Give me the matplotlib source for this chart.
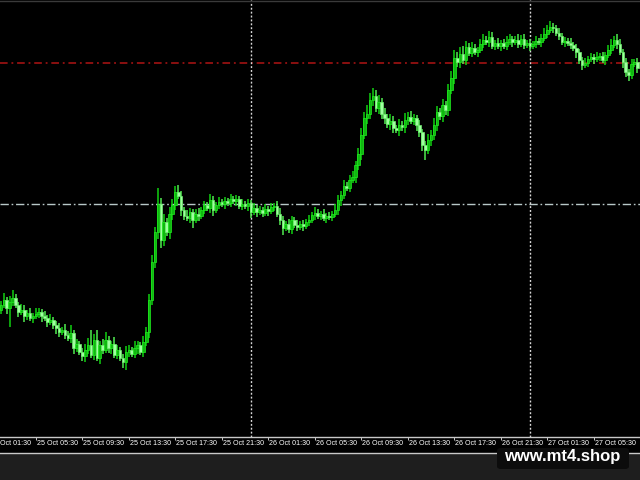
import matplotlib.pyplot as plt
from matplotlib.patches import Rectangle, FancyBboxPatch
from matplotlib.lines import Line2D

# M15 bars, prices in points (higher = higher on chart)
first_open = 130
closes = [
    135, 140, 132, 138, 142, 135, 128, 130, 124, 127, 122, 124, 126, 128, 124, 122, 118, 120, 115, 112,
    108, 110, 105, 102, 107, 92, 96, 88, 84, 90, 95, 85, 100, 82, 95, 90, 100, 92, 96, 85,
    90, 82, 78, 88, 90, 86, 92, 95, 88, 98, 108, 140, 178, 208, 236, 200, 218, 208, 226, 235,
    248, 244, 230, 224, 222, 228, 220, 226, 224, 230, 235, 232, 240, 230, 235, 238, 236, 239, 237, 241,
    239, 241, 234, 236, 234, 237, 228, 232, 228, 230, 227, 231, 229, 233, 234, 226, 220, 212, 216, 211,
    220, 215, 213, 216, 214, 218, 220, 225, 227, 224, 226, 222, 224, 223, 226, 230, 240, 245, 254, 252,
    260, 263, 275, 286, 305, 322, 326, 340, 344, 332, 338, 326, 322, 316, 319, 312, 310, 315, 313, 320,
    323, 319, 322, 315, 308, 295, 290, 300, 305, 315, 328, 324, 335, 330, 350, 362, 382, 378, 386, 380,
    393, 387, 392, 388, 390, 396, 400, 398, 403, 394, 397, 394, 397, 394, 398, 401, 398, 400, 396, 401,
    395, 397, 394, 396, 399, 398, 402, 406, 410, 413, 412, 407, 404, 398, 399, 397, 395, 392, 388, 380,
    375, 377, 381, 383, 381, 383, 384, 380, 385, 390, 395, 400, 396, 388, 378, 368, 365, 376, 378, 372,
]
up_wick = [
    4, 7, 3, 6, 8, 4, 3, 6, 5, 3, 5, 3, 6, 4, 3, 5, 3, 6, 3, 4,
    5, 3, 6, 4, 8, 3, 5, 3, 4, 6, 7, 15, 6, 10, 4, 6, 8, 4, 3, 7,
    5, 3, 4, 6, 5, 3, 7, 4, 3, 6, 5, 6, 7, 5, 16, 6, 8, 4, 7, 6,
    6, 7, 5, 3, 6, 4, 3, 5, 6, 3, 4, 3, 6, 4, 3, 5, 3, 4, 3, 5,
    3, 4, 3, 5, 3, 4, 3, 5, 3, 4, 3, 5, 3, 4, 3, 5, 6, 4, 3, 5,
    4, 3, 5, 3, 4, 3, 5, 3, 6, 4, 3, 5, 3, 4, 3, 6, 5, 4, 6, 4,
    5, 6, 4, 6, 7, 6, 9, 7, 8, 6, 7, 4, 6, 4, 7, 5, 3, 6, 4, 7,
    5, 6, 4, 3, 5, 3, 4, 6, 5, 7, 6, 4, 6, 4, 6, 7, 8, 6, 7, 8,
    6, 4, 6, 4, 3, 5, 6, 4, 6, 5, 3, 5, 3, 4, 6, 5, 3, 4, 6, 4,
    5, 3, 4, 3, 5, 3, 4, 6, 5, 6, 4, 3, 5, 3, 4, 3, 5, 3, 4, 3,
    3, 5, 3, 4, 3, 5, 3, 4, 3, 5, 6, 4, 6, 5, 3, 4, 3, 5, 3, 4,
]
dn_wick = [
    4, 3, 6, 19, 4, 3, 5, 3, 6, 4, 3, 5, 3, 4, 6, 3, 5, 3, 4, 6,
    5, 3, 4, 3, 5, 6, 4, 3, 5, 6, 4, 3, 5, 3, 6, 4, 3, 5, 6, 3,
    4, 3, 6, 8, 5, 3, 4, 6, 3, 5, 4, 6, 5, 6, 7, 8, 6, 4, 7, 6,
    5, 3, 6, 4, 3, 5, 8, 3, 5, 3, 4, 3, 5, 6, 3, 4, 3, 5, 3, 4,
    3, 5, 3, 4, 3, 5, 6, 3, 5, 3, 4, 3, 5, 3, 4, 3, 5, 7, 3, 4,
    5, 3, 4, 3, 5, 3, 4, 3, 5, 3, 4, 3, 5, 3, 4, 3, 5, 6, 4, 3,
    4, 3, 6, 5, 6, 4, 6, 5, 6, 4, 6, 5, 6, 4, 6, 5, 3, 6, 4, 6,
    5, 3, 4, 6, 5, 6, 10, 4, 6, 5, 6, 4, 6, 5, 6, 4, 6, 5, 6, 4,
    5, 3, 4, 3, 5, 3, 4, 3, 5, 3, 4, 3, 5, 3, 4, 3, 5, 3, 4, 3,
    4, 3, 5, 3, 4, 3, 5, 3, 4, 3, 5, 3, 4, 3, 5, 3, 4, 3, 6, 4,
    5, 3, 4, 3, 5, 3, 4, 3, 5, 3, 4, 3, 5, 3, 6, 5, 6, 4, 3, 5,
]

tick_bars = [-4, 12, 28, 44, 60, 76, 92, 108, 124, 140, 156, 172, 188, 204]
tick_labels = [
    "25 Oct 01:30", "25 Oct 05:30", "25 Oct 09:30", "25 Oct 13:30", "25 Oct 17:30",
    "25 Oct 21:30", "26 Oct 01:30", "26 Oct 05:30", "26 Oct 09:30", "26 Oct 13:30",
    "26 Oct 17:30", "26 Oct 21:30", "27 Oct 01:30", "27 Oct 05:30",
]
separator_bars = [86, 182]
red_level = 377
grey_level = 236

opens = [first_open] + closes[:-1]
highs = [max(o, c) + w for o, c, w in zip(opens, closes, up_wick)]
lows = [min(o, c) - w for o, c, w in zip(opens, closes, dn_wick)]
bars = list(range(len(closes)))
bull = [c >= o for o, c in zip(opens, closes)]

W, H = 640, 480
fig = plt.figure(figsize=(6.4, 4.8), dpi=100, facecolor="black")
# grey strip under the chart window
fig.patches.append(Rectangle((0, 0), 1, 1 - 453 / H, transform=fig.transFigure,
                             facecolor="#1e1e1e", edgecolor="none", zorder=-10))

ax = fig.add_axes([0, 1 - 437 / H, 1, 437 / H])
ax.set_facecolor("black")
ax.set_xlim(-0.34, 219.9)
ax.set_ylim(3, 440)

# level lines and day separators
ax.axhline(red_level, color="#b01414", lw=1.1, dashes=(5, 2.5, 1.2, 2.5), zorder=1)
ax.axhline(grey_level, color="#b8c8c8", lw=1.0, dashes=(6, 2, 1.2, 2), zorder=1)
for b in separator_bars:
    ax.axvline(b, color="#d8d8d8", lw=1.0, dashes=(1.4, 1.4), zorder=1)

# candles
wick_col = ["#10d010" if u else "#50ea50" for u in bull]
body_col = ["#10b810" if u else "#a0ffa0" for u in bull]
edge_col = ["#20f020" if u else "#70f070" for u in bull]
ax.vlines(bars, lows, highs, colors=wick_col, lw=1.1, zorder=2)
ax.bar(bars, [max(abs(c - o), 0.8) for o, c in zip(opens, closes)],
       bottom=[min(o, c) for o, c in zip(opens, closes)], width=0.9,
       color=body_col, edgecolor=edge_col, linewidth=0.5, zorder=3)

for s in ("top", "left", "right"):
    ax.spines[s].set_visible(False)
ax.spines["bottom"].set_color("#c8c8c8")
ax.spines["bottom"].set_linewidth(1.0)
ax.set_yticks([])
ax.set_xticks([b for b in tick_bars if b >= 0])
ax.set_xticklabels([])
ax.tick_params(axis="x", direction="out", length=2.5, width=0.7, color="#c8c8c8")

xt = ax.get_xaxis_transform()
for b, lab in zip(tick_bars, tick_labels):
    ax.text(b + 0.3, -6.5 / 437, lab, transform=xt, ha="left", va="center",
            fontsize=5.1, family="Liberation Sans", color="white", clip_on=False)

# window borders
fig.lines.append(Line2D([0, 1], [1 - 453 / H] * 2, transform=fig.transFigure,
                        color="#c8c8c8", lw=1.0))
fig.lines.append(Line2D([0, 1], [1 - 1.0 / H] * 2, transform=fig.transFigure,
                        color="#3a3a3a", lw=1.0))

# watermark
fig.patches.append(FancyBboxPatch((497 / W, 1 - 469 / H), 132 / W, 21 / H,
                                  boxstyle="round,pad=0,rounding_size=0.006",
                                  transform=fig.transFigure, facecolor="#0c0c0c",
                                  edgecolor="none", zorder=5))
fig.text(562 / W, 1 - 461.5 / H, "www.mt4.shop", ha="center", va="baseline",
         fontsize=12, fontweight="bold", family="Liberation Sans", color="white", zorder=6)

fig.savefig("out.png", dpi=100, facecolor=fig.get_facecolor())
plt.close(fig)
